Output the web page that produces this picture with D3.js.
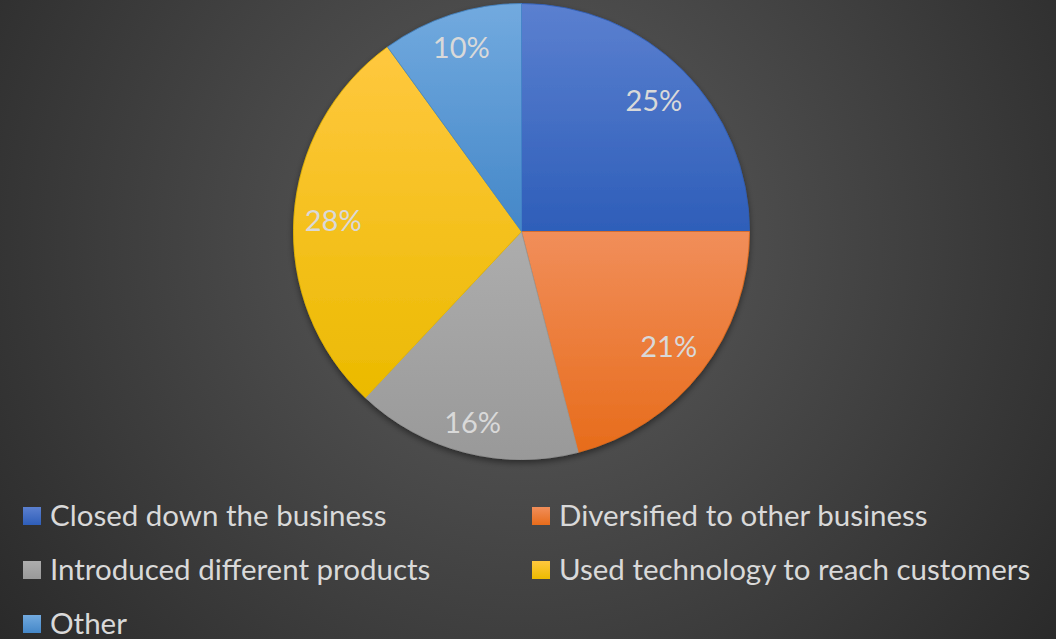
<!DOCTYPE html>
<html>
<head>
<meta charset="utf-8">
<script src="https://cdn.jsdelivr.net/npm/d3@7"></script>
<style>
  html, body { margin: 0; padding: 0; background: #333; }
  svg { display: block; }
  text { font-family: Lato, "Open Sans", sans-serif; fill: #d9d9d9; }
</style>
</head>
<body>
<svg id="chart" width="1056" height="639"></svg>
<script>
// Survey responses: what businesses did
const categories = [
  "Closed down the business",
  "Diversified to other business",
  "Introduced different products",
  "Used technology to reach customers",
  "Other"
];
const shares = [25, 21, 16, 28, 10];
// gradient colours per slice: [top, bottom]
const topColors    = ["#5b80d0", "#f18e5a", "#adadad", "#ffc83f", "#72aadf"];
const bottomColors = ["#2e5eb9", "#e76c1b", "#999999", "#ebba00", "#4487c8"];

const W = 1056, H = 639;
const cx = 521.5, cy = 231.5, R = 228;

const svg = d3.select("#chart");
const defs = svg.append("defs");

// background radial shading
const bg = defs.append("radialGradient")
  .attr("id", "bg").attr("gradientUnits", "userSpaceOnUse")
  .attr("cx", 528).attr("cy", 240).attr("r", 700);
bg.append("stop").attr("offset", 0).attr("stop-color", "#555555");
bg.append("stop").attr("offset", 0.32).attr("stop-color", "#4c4c4c");
bg.append("stop").attr("offset", 1).attr("stop-color", "#272727");
svg.append("rect").attr("width", W).attr("height", H).attr("fill", "url(#bg)");

// vertical gradient for each slice and legend key
categories.forEach((c, i) => {
  const g = defs.append("linearGradient").attr("id", "g" + i)
    .attr("x1", 0).attr("y1", 0).attr("x2", 0).attr("y2", 1);
  g.append("stop").attr("offset", 0).attr("stop-color", topColors[i]);
  g.append("stop").attr("offset", 1).attr("stop-color", bottomColors[i]);
});

// soft shadow under the pie
const f = defs.append("filter").attr("id", "shadow")
  .attr("x", "-10%").attr("y", "-10%").attr("width", "120%").attr("height", "125%");
f.append("feDropShadow").attr("dx", 0).attr("dy", 3).attr("stdDeviation", 3)
  .attr("flood-color", "#000").attr("flood-opacity", 0.45);

const pie = d3.pie().sort(null).value(d => d)(shares);
const arc = d3.arc().innerRadius(0).outerRadius(R);

const pieG = svg.append("g").attr("transform", `translate(${cx},${cy})`);
pieG.append("g").attr("filter", "url(#shadow)")
  .selectAll("path").data(pie).join("path")
  .attr("d", arc)
  .attr("fill", (d, i) => `url(#g${i})`)
  .attr("stroke", (d, i) => bottomColors[i])
  .attr("stroke-width", 0.8)
  .attr("stroke-linejoin", "round");

// data labels placed inside the slice end
const fs = 29;
pieG.selectAll("text.lbl").data(pie).join("text")
  .attr("class", "lbl")
  .attr("font-size", fs)
  .attr("text-anchor", "middle")
  .attr("dominant-baseline", "central")
  .text(d => d.value + "%")
  .each(function(d) {
    const a = (d.startAngle + d.endAngle) / 2;
    const ux = Math.sin(a), uy = -Math.cos(a);
    const hw = this.getComputedTextLength() / 2, hh = 15;
    const r = R - 10 - (Math.abs(ux) * hw + Math.abs(uy) * hh);
    d3.select(this).attr("x", ux * r).attr("y", uy * r);
  });

// legend, two columns
const colX = [23, 532];
const rowY = [526, 580, 634];
const legend = svg.append("g").selectAll("g").data(categories).join("g")
  .attr("transform", (d, i) => `translate(${colX[i % 2]},${rowY[Math.floor(i / 2)]})`);
legend.append("rect")
  .attr("x", 0).attr("y", -19).attr("width", 18).attr("height", 18)
  .attr("fill", (d, i) => `url(#g${i})`);
legend.append("text")
  .attr("x", 27).attr("y", 0)
  .attr("font-size", 29.5)
  .text(d => d);
</script>
</body>
</html>
